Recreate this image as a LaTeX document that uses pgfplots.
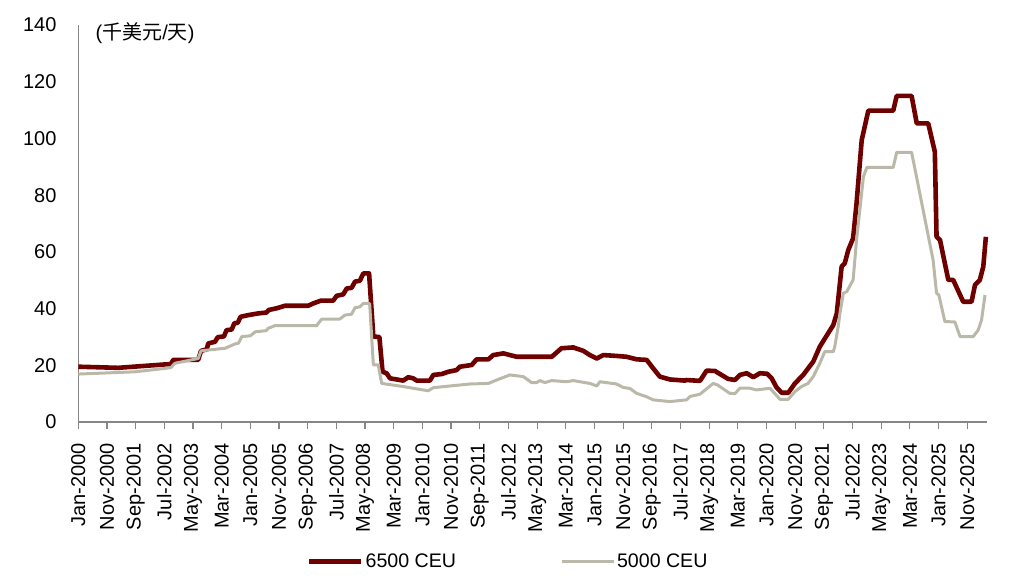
\documentclass[border=0pt]{standalone}
\usepackage{pgfplots}
\pgfplotsset{compat=1.18}
\usepackage{fontspec}
\setmainfont{Liberation Sans}
\newfontfamily\cjk{Noto Sans CJK SC}
\definecolor{ceuA}{RGB}{110,0,0}
\definecolor{ceuB}{RGB}{186,184,168}
\definecolor{axgray}{RGB}{134,134,134}
\begin{document}
\begin{tikzpicture}
\path[use as bounding box] (-39.15pt,-79.5pt) rectangle (468.35pt,211pt);
\begin{axis}[
  at={(0pt,0pt)}, anchor=south west,
  scale only axis, width=454.5pt, height=198.5pt,
  xmin=0, xmax=317, ymin=0, ymax=140,
  axis lines=left,
  axis line style={-, draw=axgray, line width=0.6pt},
  xtick={0,10,...,310},
  xticklabels={Jan-2000,Nov-2000,Sep-2001,Jul-2002,May-2003,Mar-2004,Jan-2005,Nov-2005,Sep-2006,Jul-2007,May-2008,Mar-2009,Jan-2010,Nov-2010,Sep-2011,Jul-2012,May-2013,Mar-2014,Jan-2015,Nov-2015,Sep-2016,Jul-2017,May-2018,Mar-2019,Jan-2020,Nov-2020,Sep-2021,Jul-2022,May-2023,Mar-2024,Jan-2025,Nov-2025},
  ytick={0,20,...,140},
  xtick align=outside,
  major tick length=3.5pt,
  xtick style={draw=axgray, line width=0.6pt},
  ytick style={draw=none},
  tick label style={font=\fontsize{10}{12}\selectfont, inner sep=0pt},
  xticklabel style={rotate=90, anchor=east},
  xticklabel shift=7pt,
  yticklabel shift=9pt,
  /pgf/number format/assume math mode=true,
  legend columns=2,
  legend style={draw=none, fill=none, at={(rel axis cs:0.473,-0.352)}, anchor=center,
    font=\fontsize{9.8}{12}\selectfont, inner sep=0pt,
    /tikz/every even column/.append style={column sep=51pt},
    nodes={inner sep=1pt}},
  legend image code/.code={\draw[#1] (0pt,0pt) -- (26pt,0pt);},
  clip=false,
]
\addplot[ceuA, line width=2.3pt, line join=round] coordinates {
(0,19.5)(13.9,19.1)(30.2,20.3)(32.3,20.4)(33.1,21.9)(41.8,21.9)(42.8,25.1)(44.8,25.6)
(45.3,27.7)(47.7,28.3)(48.6,29.9)(50.8,30.2)(51.7,32.4)(53.5,32.6)(54.4,34.8)(55.6,35)
(56.6,37.1)(59.3,37.7)(62.8,38.3)(65.6,38.6)(66.4,39.5)(69.2,40.1)(72.1,41)(80.2,41)
(81.9,41.8)(84.6,42.8)(88.9,42.8)(90.1,44.5)(92.4,45)(93.6,47.1)(95.3,47.3)(96.5,49.5)
(98.2,49.8)(99.4,52.4)(101.4,52.4)(102.9,30.1)(105,30)
(106.1,17.7)(107.5,17.2)(108.7,15.4)(113.3,14.6)(115.1,15.8)(116.8,15.4)(118,14.6)(122.6,14.6)
(123.8,16.6)(126.7,16.9)(129,17.7)(131.9,18.3)(133.1,19.5)(137.2,20.1)(138.9,22.1)(143,22.1)
(144.7,23.6)(148.2,24.2)(152.9,23)(165.1,23)(168.5,26)(172.6,26.3)(176.1,25.1)(178.4,23.6)
(180.8,22.4)(183.1,23.6)(187.7,23.3)(191.2,23)(194.7,22.1)(198.2,21.9)(200.5,18.9)(202.8,16)
(206.3,15)(211.5,14.6)(212.1,14.8)(216.8,14.5)(219.1,18.1)(222,18)(224.3,16.6)(226.6,15.2)
(229,14.8)(230.7,16.6)(233.1,17.2)(235.4,15.8)(237.7,17.2)(240.2,17)(241.8,15.4)(243.5,12.2)
(245.3,10.3)(247.6,10.3)(249.9,13.6)(252.8,16.6)(256.3,21.3)(258.6,26.6)(261.5,31.3)(263.3,34.2)
(264.5,38.3)(266.2,54.8)(267.3,56)(268.5,60.6)(270.2,64.8)(271.4,77.1)(273.2,99.4)(275.5,109.8)
(284.2,109.8)(285.4,115)(290.6,115)(292.4,105.3)(296.4,105.3)(298.7,95.3)(299.3,65.3)(300.5,64.2)
(303.4,50.1)(305.1,50.1)(308.6,42.4)(311.5,42.4)(312.7,48.3)(314.4,50.1)(315.6,54.8)(316.5,65.3)
};
\addlegendentry{6500 CEU}
\addplot[ceuB, line width=1.5pt, line join=round] coordinates {
(0,16.9)(19.8,17.7)(30.2,18.9)(32.3,19.2)(33.7,20.7)(41.8,22.4)(42.8,25.1)(51.2,26)
(54.6,27.5)(55.9,27.8)(57,30.1)(60,30.4)(61.7,31.8)(65.5,32.2)(66.2,33)(68.6,34)
(83.1,34)(84.9,36.3)(91.2,36.3)(93,37.7)(95.3,38)(96.5,40.3)(98.2,40.6)(99.4,41.8)
(101.6,41.8)(102.9,20.1)(104.6,20.1)
(105.8,13.6)(113.3,12.5)(119.1,11.5)(122,11)(123.8,12.1)(129.6,12.7)(136.6,13.4)(143,13.6)
(145.9,14.8)(150.5,16.6)(155.2,16)(158.1,13.9)(159.8,13.9)(161,14.6)(162.7,13.9)(165.1,14.6)
(170.3,14.2)(172.6,14.6)(178.4,13.6)(180.8,12.7)(181.9,14.2)(187.7,13.4)(190,12.2)(192.4,11.8)
(194.7,10.1)(198.2,8.9)(200.5,7.8)(206.3,7.2)(212.1,7.8)(213.3,9)(216.8,9.8)(221.4,13.6)
(223,13)(227.2,10.1)(229,10)(230.7,11.9)(234.2,11.9)(236.5,11.3)(241.2,11.9)(244.7,8)
(247.6,8)(249.9,10.7)(252.2,12.5)(254.5,13.6)(256.3,16)(258.6,20.7)(260.3,24.8)(263.3,24.8)
(263.8,26.6)(265,33.6)(265.6,38.3)(266.8,45.4)(268,46)(270.2,50.1)(271.4,64.2)(273.8,86.5)
(275,89.8)(284.2,89.8)(285.4,95.1)(290.6,95.1)(298.1,57.1)(299.3,45.4)(300.1,44.8)(302.2,35.4)
(305.7,35.3)(307.5,30.1)(312.1,30.1)(313.8,32.4)(315,36)(316.2,44.8)
};
\addlegendentry{5000 CEU}
\node[anchor=west, inner sep=0pt, font=\fontsize{10}{12}\selectfont] at (rel axis cs:0,1) [xshift=8.5pt, yshift=-4pt] {({\cjk 千美元}/{\cjk 天})};
\end{axis}
\end{tikzpicture}
\end{document}
